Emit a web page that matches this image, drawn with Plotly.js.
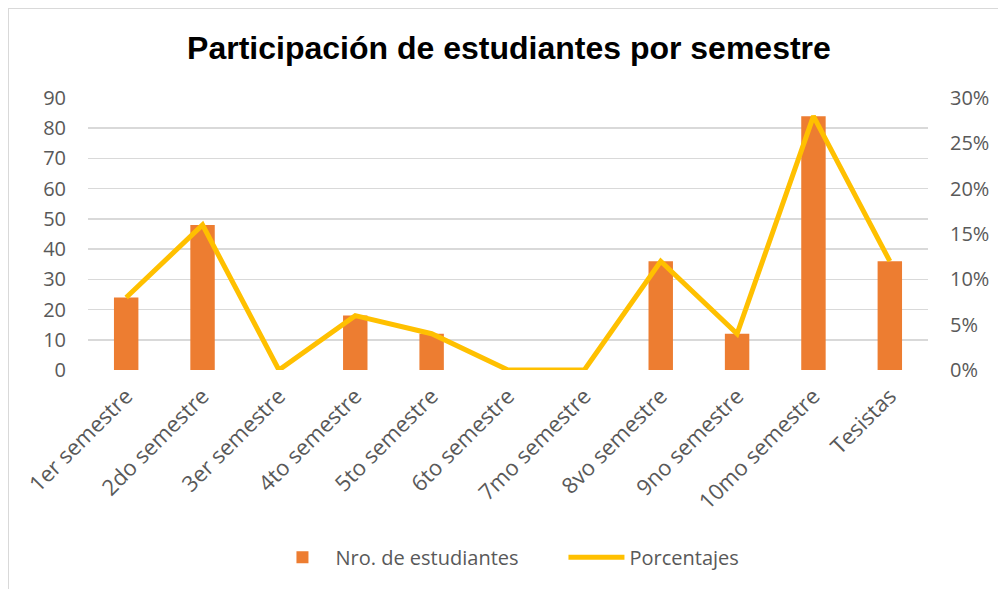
<!DOCTYPE html>
<html><head><meta charset="utf-8">
<script src="https://cdn.plot.ly/plotly-3.0.1.min.js"></script>
<style>body{margin:0;background:#fff}#frame{position:absolute;left:8px;top:8px;width:1100px;height:700px;border:1px solid #d9d9d9}#chart{position:absolute;left:0;top:0;width:998px;height:589px}</style>
</head><body><div id="frame"></div><div id="chart"></div>
<script>
const categories = ["1er semestre","2do semestre","3er semestre","4to semestre","5to semestre","6to semestre","7mo semestre","8vo semestre","9no semestre","10mo semestre","Tesistas"];
const students = [24,48,0,18,12,0,0,36,12,84,36];
const percentages = [0.08,0.16,0,0.06,0.04,0,0,0.12,0.04,0.28,0.12];
const font = "'Open Sans', Lato, sans-serif";
Plotly.newPlot('chart', [
 {type:'bar', x:categories, y:students, name:'Nro. de estudiantes', marker:{color:'#ed7d31'}},
 {type:'scatter', mode:'lines', x:categories, y:percentages, yaxis:'y2', name:'Porcentajes', line:{color:'#ffc000', width:5}}
], {
 width:998, height:589, paper_bgcolor:'rgba(0,0,0,0)', plot_bgcolor:'rgba(0,0,0,0)',
 margin:{l:88, r:70, t:98, b:219},
 title:{text:'<b>Participación de estudiantes por semestre</b>', x:0.51, xanchor:'center', y:0.918, yanchor:'middle', font:{family:'Liberation Sans, Arial', size:32, color:'#000'}},
 bargap:0.68, showlegend:true,
 legend:{orientation:'h', xanchor:'left', xref:'container', yref:'container', x:0.27, y:0.054, yanchor:'middle', itemwidth:56, entrywidth:223, entrywidthmode:'pixels', font:{family:font, size:20, color:'#595959'}},
 xaxis:{tickangle:-45, automargin:false, ticklabelstandoff:8, tickfont:{family:font, size:22, color:'#595959'}, showgrid:false, showline:false, ticks:''},
 yaxis:{range:[0,90], dtick:10, automargin:false, tickfont:{family:font, size:20, color:'#595959'}, gridcolor:'#d9d9d9', gridwidth:1.5, zeroline:false, ticklabelstandoff:21},
 yaxis2:{overlaying:'y', side:'right', automargin:false, range:[0,0.30], dtick:0.05, tickformat:'.0%', showgrid:false, zeroline:false, ticklabelstandoff:21, tickfont:{family:font, size:20, color:'#595959'}}
}, {displayModeBar:false, staticPlot:true});
</script></body></html>
